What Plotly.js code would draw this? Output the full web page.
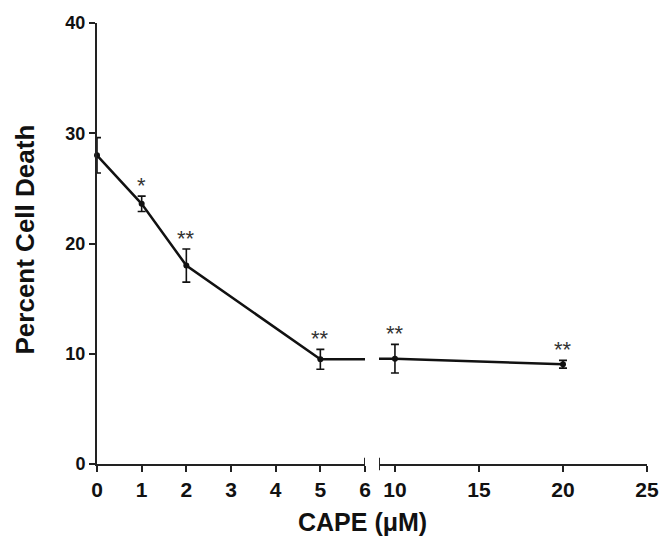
<!DOCTYPE html>
<html>
<head>
<meta charset="utf-8">
<script src="https://cdn.plot.ly/plotly-3.0.1.min.js"></script>
<style>html,body{margin:0;padding:0;background:#fff;}#chart{width:659px;height:536px;}</style>
</head>
<body>
<div id="chart"></div>
<script>
// Data
const dose = [0, 1, 2, 5, 10, 20];            // CAPE (µM)
const death = [28.0, 23.6, 18.0, 9.5, 9.55, 9.05]; // Percent cell death (mean)
const sem = [1.6, 0.7, 1.5, 0.9, 1.3, 0.35];   // error (±)
const sig = ["", "*", "**", "**", "**", "**"]; // significance marks
const leftTicks = [0, 1, 2, 3, 4, 5, 6];
const rightTicks = [10, 15, 20, 25];
const yTicks = [0, 10, 20, 30, 40];

const BREAK = 6; // left segment max
const lineColor = '#111';
const axisColor = '#222';
const fam = 'Liberation Sans, Arial, sans-serif';

const leftIdx = dose.map((d, i) => i).filter(i => dose[i] <= BREAK);
const rightIdx = dose.map((d, i) => i).filter(i => dose[i] > BREAK);
const pick = (arr, idx) => idx.map(i => arr[i]);
const boldText = arr => arr.map(v => '<b>' + v + '</b>');

const lastL = leftIdx[leftIdx.length - 1], firstR = rightIdx[0];
const bridgeX = [dose[lastL], dose[firstR]];
const bridgeY = [death[lastL], death[firstR]];

function mainTrace(idx, xa) {
  return {
    x: pick(dose, idx), y: pick(death, idx), xaxis: xa, yaxis: 'y',
    type: 'scatter', mode: 'lines+markers', cliponaxis: false,
    line: {color: lineColor, width: 2.5},
    marker: {color: lineColor, size: 6},
    error_y: {type: 'data', array: pick(sem, idx), visible: true, color: lineColor, thickness: 1.6, width: 4},
    hoverinfo: 'x+y', showlegend: false
  };
}
function bridge(xa) {
  return {x: bridgeX, y: bridgeY, xaxis: xa, yaxis: 'y', type: 'scatter', mode: 'lines',
    line: {color: lineColor, width: 2.5}, hoverinfo: 'skip', showlegend: false};
}

const data = [mainTrace(leftIdx, 'x'), mainTrace(rightIdx, 'x2'), bridge('x'), bridge('x2')];

const annotations = [];
dose.forEach((d, i) => {
  if (!sig[i]) return;
  annotations.push({
    x: d, y: death[i] + sem[i], xref: d <= BREAK ? 'x' : 'x2', yref: 'y',
    text: sig[i], showarrow: false, yanchor: 'bottom', yshift: -4,
    font: {family: fam, size: 22, color: '#333'}
  });
});
annotations.push({
  xref: 'paper', yref: 'paper', x: 0.482, y: -0.132, yanchor: 'middle', xanchor: 'center',
  text: '<b>CAPE (μM)</b>', showarrow: false,
  font: {family: fam, size: 25, color: '#111'}
});
annotations.push({
  xref: 'paper', yref: 'paper', x: -0.131, y: 0.509, xanchor: 'center', yanchor: 'middle',
  text: '<b>Percent Cell Death</b>', textangle: -90, showarrow: false,
  font: {family: fam, size: 26, color: '#111'}
});

const axCommon = {
  showline: true, linecolor: axisColor, linewidth: 2, ticks: 'outside', ticklen: 6,
  tickwidth: 2, tickcolor: axisColor, showgrid: false, zeroline: false,
  ticklabeloverflow: 'allow'
};
const xFont = {family: fam, size: 21, color: '#111'};
const yFont = {family: fam, size: 18, color: '#111'};

const layout = {
  width: 659, height: 536,
  margin: {l: 97, r: 12, t: 23, b: 72},
  paper_bgcolor: '#fff', plot_bgcolor: '#fff',
  showlegend: false,
  xaxis: Object.assign({}, axCommon, {domain: [0, 0.4873], range: [0, BREAK], tickvals: leftTicks, ticktext: boldText(leftTicks), tickfont: xFont, anchor: 'y'}),
  xaxis2: Object.assign({}, axCommon, {domain: [0.5127, 1], range: [9.05, 25], tickvals: rightTicks, ticktext: boldText(rightTicks), tickfont: xFont, anchor: 'y'}),
  yaxis: Object.assign({}, axCommon, {domain: [0, 1], range: [0, 40], tickvals: yTicks, ticktext: boldText(yTicks), tickfont: yFont, anchor: 'x'}),
  shapes: [
    {type: 'line', xref: 'x', yref: 'paper', x0: BREAK, x1: BREAK, y0: -0.014, y1: 0.014, line: {color: axisColor, width: 2}},
    {type: 'line', xref: 'x2', yref: 'paper', x0: 9.05, x1: 9.05, y0: -0.014, y1: 0.014, line: {color: axisColor, width: 2}}
  ],
  annotations: annotations
};

Plotly.newPlot('chart', data, layout, {displayModeBar: false, staticPlot: true});
</script>
</body>
</html>
